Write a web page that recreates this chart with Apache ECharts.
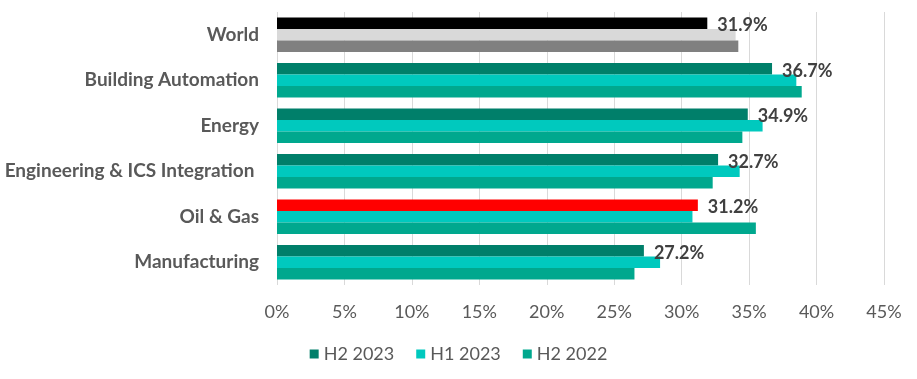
<!DOCTYPE html>
<html>
<head>
<meta charset="utf-8">
<script src="https://cdn.jsdelivr.net/npm/echarts@6/dist/echarts.min.js"></script>
<style>html,body{margin:0;padding:0;background:#fff}#c{width:917px;height:379px}</style>
</head>
<body>
<div id="c"></div>
<script>
const categories = ["World", "Building Automation", "Energy", "Engineering & ICS Integration ", "Oil & Gas", "Manufacturing"];
const seriesNames = ["H2 2023", "H1 2023", "H2 2022"];
const h2_2023 = [31.9, 36.7, 34.9, 32.7, 31.2, 27.2];
const h1_2023 = [34.0, 38.5, 36.0, 34.3, 30.8, 28.4];
const h2_2022 = [34.2, 38.9, 34.5, 32.3, 35.5, 26.5];
const xTicks = [0, 5, 10, 15, 20, 25, 30, 35, 40, 45];

const colors = ["#007F6A", "#00C9BE", "#00A88E"];
const worldColors = ["#000000", "#D9D9D9", "#808080"];
const highlight = { "Oil & Gas": "#FF0000" };

const font = "Lato";
function mk(vals, idx) {
  return vals.map((v, i) => {
    const cat = categories[i];
    let c = colors[idx];
    if (cat === "World") c = worldColors[idx];
    else if (idx === 0 && highlight[cat]) c = highlight[cat];
    return { value: v, itemStyle: { color: c } };
  });
}
const allVals = [h2_2023, h1_2023, h2_2022];
const series = allVals.map((vals, idx) => ({
  name: seriesNames[idx],
  type: "bar",
  data: mk(vals, idx),
  itemStyle: { color: colors[idx] },
  barGap: "0%",
  barCategoryGap: "24.6%",
  label: idx === 0 ? {
    show: true, position: "right", distance: 10, offset: [0, 2],
    formatter: p => p.value.toFixed(1) + "%",
    color: "#404040", fontFamily: font, fontWeight: "bold", fontSize: 18
  } : { show: false }
}));

const chart = echarts.init(document.getElementById("c"), null, { renderer: "canvas" });
chart.setOption({
  animation: false,
  grid: { left: 277, right: 33, top: 12, bottom: 94, containLabel: false },
  legend: {
    bottom: 11, left: "center",
    icon: "rect", itemWidth: 9, itemHeight: 9, itemGap: 22,
    textStyle: { color: "#595959", fontFamily: font, fontSize: 18 },
    data: seriesNames.map((n, i) => ({ name: n, itemStyle: { color: colors[i] } }))
  },
  xAxis: {
    type: "value", min: xTicks[0], max: xTicks[xTicks.length - 1], interval: 5,
    axisLine: { show: false }, axisTick: { show: false },
    splitLine: { show: true, lineStyle: { color: "#D9D9D9", width: 1 } },
    axisLabel: { formatter: v => v + "%", color: "#595959", fontFamily: font, fontSize: 18, margin: 18 }
  },
  yAxis: {
    type: "category", data: categories, inverse: true,
    axisLine: { show: false }, axisTick: { show: false },
    axisLabel: { color: "#595959", fontFamily: font, fontWeight: "bold", fontSize: 19, margin: 18 }
  },
  series: series
});
</script>
</body>
</html>
